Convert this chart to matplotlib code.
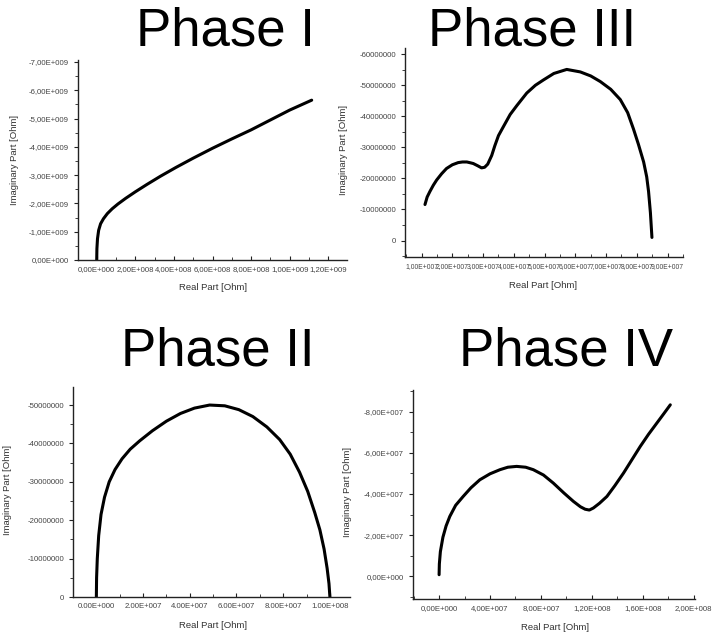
import matplotlib
matplotlib.use("Agg")
import matplotlib.pyplot as plt
from matplotlib.ticker import FuncFormatter, MultipleLocator, AutoMinorLocator
import numpy as np

plt.rcParams['font.family'] = ['Liberation Sans', 'DejaVu Sans']

# ---------------- data ----------------
# Phase I : real part [Ohm], imaginary part [Ohm]
p1_real = [0.0, 0.001e9, 0.004e9, 0.01e9, 0.02e9, 0.035e9, 0.055e9, 0.08e9, 0.11e9,
           0.15e9, 0.2e9, 0.26e9, 0.33e9, 0.41e9, 0.5e9, 0.6e9, 0.7e9, 0.8e9, 0.9e9,
           1.0e9, 1.114e9]
p1_imag = [0.0, -0.4e9, -0.75e9, -1.05e9, -1.28e9, -1.46e9, -1.64e9, -1.81e9, -1.98e9,
           -2.18e9, -2.41e9, -2.67e9, -2.96e9, -3.27e9, -3.6e9, -3.95e9, -4.28e9,
           -4.6e9, -4.95e9, -5.3e9, -5.65e9]

# Phase III
p3_real = [1.11e7, 1.18e7, 1.27e7, 1.38e7, 1.49e7, 1.65e7, 1.81e7, 2.0e7, 2.19e7,
           2.33e7, 2.47e7, 2.6e7, 2.68e7, 2.82e7, 2.95e7, 3.05e7, 3.15e7, 3.28e7,
           3.38e7, 3.5e7, 3.65e7, 3.88e7, 4.1e7, 4.42e7, 4.7e7, 4.96e7, 5.3e7, 5.72e7,
           6.16e7, 6.5e7, 6.81e7, 7.15e7, 7.46e7, 7.7e7, 7.89e7, 8.05e7, 8.22e7, 8.32e7,
           8.38e7, 8.44e7, 8.49e7]
p3_imag = [-1.16e7, -1.4e7, -1.58e7, -1.78e7, -1.95e7, -2.15e7, -2.32e7, -2.44e7,
           -2.51e7, -2.53e7, -2.53e7, -2.5e7, -2.48e7, -2.41e7, -2.34e7, -2.36e7,
           -2.46e7, -2.74e7, -3.05e7, -3.38e7, -3.65e7, -4.06e7, -4.35e7, -4.75e7,
           -5.0e7, -5.17e7, -5.38e7, -5.51e7, -5.43e7, -5.3e7, -5.12e7, -4.87e7,
           -4.54e7, -4.12e7, -3.59e7, -3.1e7, -2.53e7, -2.05e7, -1.58e7, -0.9e7, -0.1e7]

# Phase II
p2_real = [0.0, 0.01e7, 0.04e7, 0.1e7, 0.2e7, 0.35e7, 0.55e7, 0.8e7, 1.1e7, 1.45e7,
           1.86e7, 2.4e7, 3.0e7, 3.6e7, 4.2e7, 4.85e7, 5.5e7, 6.1e7, 6.7e7, 7.3e7,
           7.85e7, 8.3e7, 8.7e7, 9.05e7, 9.35e7, 9.57e7, 9.75e7, 9.88e7, 9.96e7, 10.0e7]
p2_imag = [0.0, -0.5e7, -1.0e7, -1.6e7, -2.15e7, -2.6e7, -3.0e7, -3.32e7, -3.6e7,
           -3.85e7, -4.07e7, -4.33e7, -4.58e7, -4.78e7, -4.92e7, -5.0e7, -4.98e7,
           -4.88e7, -4.7e7, -4.43e7, -4.1e7, -3.72e7, -3.25e7, -2.75e7, -2.2e7,
           -1.75e7, -1.25e7, -0.75e7, -0.35e7, 0.0]

# Phase IV
p4_real = [0.0, 0.02e7, 0.1e7, 0.3e7, 0.55e7, 0.84e7, 1.3e7, 1.89e7, 2.5e7, 3.2e7,
           4.0e7, 4.78e7, 5.4e7, 6.09e7, 6.8e7, 7.4e7, 8.2e7, 8.97e7, 9.8e7, 10.55e7,
           11.1e7, 11.47e7, 11.8e7, 12.12e7, 12.6e7, 13.18e7, 13.8e7, 14.49e7,
           15.15e7, 15.8e7, 16.45e7, 17.11e7, 17.65e7, 18.16e7]
p4_imag = [-0.08e7, -0.6e7, -1.2e7, -1.9e7, -2.45e7, -2.91e7, -3.45e7, -3.88e7,
           -4.3e7, -4.69e7, -4.98e7, -5.18e7, -5.3e7, -5.34e7, -5.3e7, -5.18e7,
           -4.92e7, -4.53e7, -4.05e7, -3.64e7, -3.38e7, -3.26e7, -3.22e7, -3.32e7,
           -3.55e7, -3.88e7, -4.4e7, -5.02e7, -5.67e7, -6.31e7, -6.9e7, -7.45e7,
           -7.9e7, -8.33e7]

titles = ["Phase I", "Phase III", "Phase II", "Phase IV"]
x_label = "Real Part [Ohm]"
y_label = "Imaginary Part [Ohm]"

# ---------------- helpers ----------------
W, H = 716, 635


def sci(dec):
    def f(v, pos):
        if abs(v) < 1e-12:
            return "0" + dec + "00E+000"
        e = int(np.floor(np.log10(abs(v)) + 1e-9))
        m = v / 10 ** e
        s = f"{m:.2f}".replace(".", dec)
        return f"{s}E+{e:03d}"
    return f


def plain(v, pos):
    return f"{int(round(v))}"


def make_axes(l, r, t, b):
    return fig.add_axes([l / W, 1 - b / H, (r - l) / W, (b - t) / H])


def style(ax, xls=5.6):
    for s in ("top", "right"):
        ax.spines[s].set_visible(False)
    for s in ("left", "bottom"):
        ax.spines[s].set_linewidth(1.0)
        ax.spines[s].set_color("#222222")
    ax.tick_params(axis="y", which="both", direction="out", labelsize=5.6,
                   colors="#222222", labelcolor="#444444")
    ax.tick_params(axis="x", which="both", direction="in", labelsize=xls,
                   colors="#222222", labelcolor="#444444", pad=4)
    ax.tick_params(which="major", length=3, width=0.8)
    ax.tick_params(which="minor", length=2, width=0.6)
    ax.xaxis.set_minor_locator(AutoMinorLocator(2))
    ax.yaxis.set_minor_locator(AutoMinorLocator(2))


fig = plt.figure(figsize=(W / 100, H / 100), dpi=100)
fig.patch.set_facecolor("white")

lw = 2.2
kw = dict(color="black", lw=lw, solid_capstyle="round", solid_joinstyle="round")

# Phase I
ax1 = make_axes(78, 347, 60, 260)
ax1.plot(p1_real, p1_imag, **kw)
ax1.set_xlim(-0.97e8, 1.297e9)
ax1.set_ylim(0, -7.07e9)
ax1.xaxis.set_major_locator(MultipleLocator(2e8))
ax1.yaxis.set_major_locator(MultipleLocator(1e9))
ax1.xaxis.set_major_formatter(FuncFormatter(sci(",")))
ax1.yaxis.set_major_formatter(FuncFormatter(sci(",")))
style(ax1)

# Phase III
ax3 = make_axes(405, 683, 48, 257)
ax3.plot(p3_real, p3_imag, **kw)
ax3.set_xlim(0.46e7, 9.5e7)
ax3.set_ylim(0.53e7, -6.2e7)
ax3.xaxis.set_major_locator(MultipleLocator(1e7))
ax3.yaxis.set_major_locator(MultipleLocator(1e7))
ax3.xaxis.set_major_formatter(FuncFormatter(sci(",")))
ax3.yaxis.set_major_formatter(FuncFormatter(plain))
style(ax3, xls=4.9)

# Phase II
ax2 = make_axes(73, 350, 387, 597)
ax2.plot(p2_real, p2_imag, **kw)
ax2.set_xlim(-1.0e7, 1.086e8)
ax2.set_ylim(0, -5.47e7)
ax2.xaxis.set_major_locator(MultipleLocator(2e7))
ax2.yaxis.set_major_locator(MultipleLocator(1e7))
ax2.xaxis.set_major_formatter(FuncFormatter(sci(".")))
ax2.yaxis.set_major_formatter(FuncFormatter(plain))
style(ax2)

# Phase IV
ax4 = make_axes(413, 695, 390, 599)
ax4.plot(p4_real, p4_imag, **kw)
ax4.set_xlim(-2.05e7, 2.01e8)
ax4.set_ylim(1.1e7, -9.05e7)
ax4.xaxis.set_major_locator(MultipleLocator(4e7))
ax4.yaxis.set_major_locator(MultipleLocator(2e7))
ax4.xaxis.set_major_formatter(FuncFormatter(sci(",")))
ax4.yaxis.set_major_formatter(FuncFormatter(sci(",")))
style(ax4)

# titles
tpos = [(225, 45), (532, 45), (218, 366), (566, 366)]
for t, (x, y) in zip(titles, tpos):
    fig.text(x / W, 1 - y / H, t, fontsize=38, ha="center", va="baseline", color="black")

# axis labels
xl_pos = [(213, 288), (543, 285), (213, 625), (555, 627)]
for (x, y) in xl_pos:
    fig.text(x / W, 1 - y / H, x_label, fontsize=6.8, ha="center", va="center", color="#333333")
yl_pos = [(15, 160), (343, 150), (8, 490), (347, 492)]
for (x, y) in yl_pos:
    fig.text(x / W, 1 - y / H, y_label, fontsize=6.8, ha="center", va="center",
             rotation=90, color="#333333")

fig.savefig("out.png", dpi=100, facecolor="white")
